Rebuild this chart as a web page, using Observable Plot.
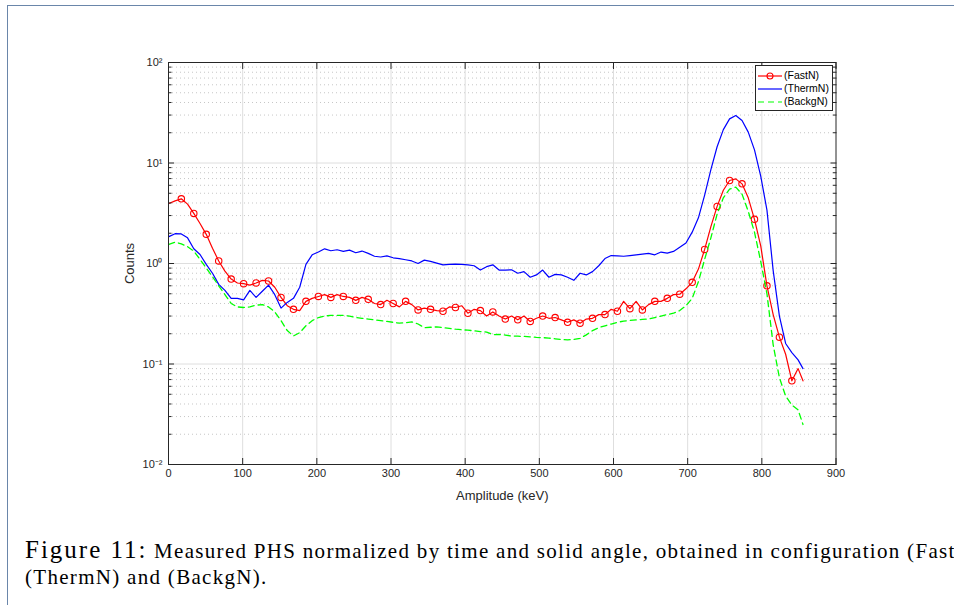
<!DOCTYPE html>
<html>
<head>
<meta charset="utf-8">
<script src="https://cdn.jsdelivr.net/npm/d3@7"></script>
<script src="https://cdn.jsdelivr.net/npm/@observablehq/plot@0.6"></script>
<style>
  html, body { margin: 0; padding: 0; background: #fff; }
  body { width: 954px; height: 605px; overflow: hidden; position: relative; }
  #frame { position: absolute; left: 7px; top: 5px; width: 1000px; height: 700px;
           border-top: 1.5px solid #6a86aa; border-left: 1.5px solid #6a86aa; }
  #chart { position: absolute; left: 0; top: 0; }
  #legend { position: absolute; left: 755px; top: 65px; width: 76px; height: 44px;
            border: 1px solid #262626; background: #fff;
            font-family: "Liberation Sans", Arial, sans-serif; font-size: 10.5px; color: #000; }
  .row { position: absolute; left: 0; height: 12px; width: 76px; }
  .row svg { position: absolute; left: 2px; top: 0; }
  .row span { position: absolute; left: 28px; top: -1px; line-height: 13px; white-space: nowrap; }
  #caption { position: absolute; left: 25px; top: 537px; white-space: nowrap;
             font-family: "Liberation Serif", "DejaVu Serif", serif; font-size: 21px;
             letter-spacing: 1.3px; line-height: 26px; color: #000; }
  #caption .fig { font-size: 25px; letter-spacing: 2px; }
</style>
</head>
<body>
<div id="frame"></div>
<div id="chart"></div>
<div id="legend">
  <div class="row" style="top:4px"><svg width="26" height="12"><line x1="0" y1="6" x2="24" y2="6" stroke="#ff0000" stroke-width="1.2"/><circle cx="12" cy="6" r="3" fill="none" stroke="#ff0000" stroke-width="1.1"/></svg><span>(FastN)</span></div>
  <div class="row" style="top:16.5px"><svg width="26" height="12"><line x1="0" y1="6" x2="24" y2="6" stroke="#0000ff" stroke-width="1.2"/></svg><span>(ThermN)</span></div>
  <div class="row" style="top:30px"><svg width="26" height="12"><line x1="0" y1="6" x2="24" y2="6" stroke="#00ff00" stroke-width="1.2" stroke-dasharray="6,4"/></svg><span>(BackgN)</span></div>
</div>
<div id="caption"><span class="fig">Figure 11:</span>&nbsp;Measured PHS normalized by time and solid angle, obtained in configuration (FastN),<br>(ThermN) and (BackgN).</div>
<script>
// Amplitude grid (keV)
const amplitude = [
  0.5, 8.9, 17.3, 25.7, 34.1, 42.5, 50.9, 59.3, 67.7, 76.1,
  84.5, 92.9, 101.3, 109.7, 118.1, 126.5, 134.9, 143.3, 151.7, 160.1,
  168.5, 176.9, 185.3, 193.7, 202.1, 210.5, 218.9, 227.3, 235.7, 244.1,
  252.5, 260.9, 269.3, 277.7, 286.1, 294.5, 302.9, 311.3, 319.7, 328.1,
  336.5, 344.9, 353.3, 361.7, 370.1, 378.5, 386.9, 395.3, 403.7, 412.1,
  420.5, 428.9, 437.3, 445.7, 454.1, 462.5, 470.9, 479.3, 487.7, 496.1,
  504.5, 512.9, 521.3, 529.7, 538.1, 546.5, 554.9, 563.3, 571.7, 580.1,
  588.5, 596.9, 605.3, 613.7, 622.1, 630.5, 638.9, 647.3, 655.7, 664.1,
  672.5, 680.9, 689.3, 697.7, 706.1, 714.5, 722.9, 731.3, 739.7, 748.1,
  756.5, 764.9, 773.3, 781.7, 790.1, 798.5, 806.9, 815.3, 823.7, 832.1,
  840.5, 848.9, 855.5
];
// (FastN) counts
const fastN = [
  3.95, 4.2, 4.4, 3.9, 3.15, 2.5, 1.95, 1.42, 1.06, 0.84,
  0.70, 0.64, 0.63, 0.61, 0.64, 0.68, 0.67, 0.58, 0.46, 0.38,
  0.35, 0.34, 0.42, 0.45, 0.47, 0.49, 0.46, 0.49, 0.47, 0.46,
  0.43, 0.46, 0.44, 0.40, 0.39, 0.43, 0.40, 0.37, 0.42, 0.39,
  0.345, 0.36, 0.35, 0.34, 0.335, 0.37, 0.365, 0.38, 0.32, 0.35,
  0.34, 0.30, 0.33, 0.30, 0.28, 0.30, 0.275, 0.30, 0.265, 0.285,
  0.30, 0.285, 0.29, 0.275, 0.26, 0.275, 0.255, 0.28, 0.285, 0.31,
  0.31, 0.35, 0.335, 0.42, 0.355, 0.42, 0.345, 0.39, 0.42, 0.42,
  0.45, 0.49, 0.495, 0.56, 0.65, 0.88, 1.38, 2.33, 3.7, 5.35,
  6.7, 6.95, 6.2, 4.5, 2.75, 1.5, 0.6, 0.31, 0.185, 0.125,
  0.068, 0.09, 0.068
];
// (ThermN) counts
const thermN = [
  1.85, 1.98, 1.97, 1.8, 1.4, 1.23, 0.98, 0.80, 0.62, 0.54,
  0.45, 0.45, 0.435, 0.54, 0.46, 0.53, 0.61, 0.49, 0.36, 0.41,
  0.45, 0.58, 0.98, 1.22, 1.30, 1.40, 1.34, 1.37, 1.32, 1.36,
  1.28, 1.33, 1.26, 1.18, 1.16, 1.19, 1.14, 1.12, 1.09, 1.06,
  1.0, 1.08, 1.05, 1.01, 0.97, 0.98, 0.985, 0.98, 0.97, 0.95,
  0.86, 0.93, 0.97, 0.86, 0.86, 0.865, 0.80, 0.83, 0.73, 0.77,
  0.86, 0.73, 0.78, 0.77, 0.73, 0.68, 0.80, 0.77, 0.83, 0.95,
  1.12, 1.20, 1.19, 1.18, 1.20, 1.22, 1.24, 1.26, 1.22, 1.30,
  1.27, 1.32, 1.45, 1.60, 2.05, 2.85, 4.8, 8.6, 14.5, 21.5,
  27.5, 29.7, 26.5, 20.3, 13.5, 7.4, 3.4, 0.85, 0.30, 0.16,
  0.13, 0.11, 0.09
];
// (BackgN) counts
const backgN = [
  1.55, 1.63, 1.57, 1.47, 1.33, 1.1, 0.9, 0.74, 0.6, 0.49,
  0.40, 0.37, 0.365, 0.37, 0.385, 0.39, 0.37, 0.33, 0.27, 0.215,
  0.19, 0.205, 0.24, 0.27, 0.29, 0.30, 0.305, 0.305, 0.305, 0.30,
  0.29, 0.285, 0.28, 0.275, 0.27, 0.265, 0.26, 0.255, 0.258, 0.262,
  0.25, 0.23, 0.232, 0.234, 0.23, 0.226, 0.222, 0.219, 0.217, 0.214,
  0.21, 0.208, 0.196, 0.197, 0.194, 0.19, 0.189, 0.188, 0.186, 0.184,
  0.183, 0.181, 0.178, 0.175, 0.174, 0.176, 0.18, 0.195, 0.215, 0.23,
  0.24, 0.25, 0.26, 0.267, 0.272, 0.275, 0.278, 0.28, 0.29, 0.30,
  0.31, 0.32, 0.34, 0.38, 0.45, 0.66, 1.1, 1.8, 3.1, 4.5,
  5.5, 5.75, 4.9, 3.3, 2.05, 1.05, 0.5, 0.155, 0.073, 0.048,
  0.039, 0.035, 0.025
];
// Axis ticks
const xTicks = [0, 100, 200, 300, 400, 500, 600, 700, 800, 900];
const yTicks = [0.01, 0.1, 1, 10, 100];
const yTickLabels = ["10⁻²", "10⁻¹", "10⁰", "10¹", "10²"];
const yMinorMultipliers = [2, 3, 4, 5, 6, 7, 8, 9];

const yMinor = yTicks.slice(0, -1).flatMap(d => yMinorMultipliers.map(m => d * m));
const rows = amplitude.map((x, i) => ({x, fast: fastN[i], therm: thermN[i], backg: backgN[i], i}));
const markerRows = rows.filter(d => d.i >= 2 && d.i % 2 === 0 && d.i <= 100);
const ink = "#262626";
const fmtY = d => yTickLabels[yTicks.indexOf(d)];

const chart = Plot.plot({
  width: 954,
  height: 520,
  marginLeft: 168,
  marginRight: 118.5,
  marginTop: 62,
  marginBottom: 56,
  style: {fontFamily: "'Liberation Sans', Arial, sans-serif", fontSize: "11px", color: ink, background: "transparent", overflow: "visible"},
  x: {domain: [0, 900]},
  y: {type: "log", domain: [0.01, 100]},
  marks: [
    Plot.ruleY(yMinor, {stroke: "#b8b8b8", strokeWidth: 0.8, strokeDasharray: "1,3"}),
    Plot.ruleX(xTicks.slice(1, -1), {stroke: "#dedede", strokeWidth: 1}),
    Plot.ruleY(yTicks.slice(1, -1), {stroke: "#dedede", strokeWidth: 1}),
    Plot.line(rows, {x: "x", y: "fast", stroke: "#ff0000", strokeWidth: 1.2}),
    Plot.dot(markerRows, {x: "x", y: "fast", r: 3.2, stroke: "#ff0000", fill: "none", strokeWidth: 1.1}),
    Plot.line(rows, {x: "x", y: "therm", stroke: "#0000ff", strokeWidth: 1.2}),
    Plot.line(rows, {x: "x", y: "backg", stroke: "#00ff00", strokeWidth: 1.3, strokeDasharray: "6,4"}),
    Plot.frame({stroke: ink, strokeWidth: 1}),
    Plot.axisX({anchor: "bottom", ticks: xTicks, tickSize: -6, tickPadding: 11, tickFormat: d => String(d),
      label: "Amplitude (keV)", labelAnchor: "center", labelArrow: "none", labelOffset: 35, fontSize: 11}),
    Plot.axisX({anchor: "top", ticks: xTicks, tickSize: -6, tickFormat: () => "", label: null}),
    Plot.axisY({anchor: "left", ticks: yTicks, tickSize: -6, tickPadding: 12, tickFormat: fmtY,
      label: "Counts", labelAnchor: "center", labelArrow: "none", labelOffset: 44, fontSize: 11}),
    Plot.axisY({anchor: "left", ticks: yMinor, tickSize: -3.5, tickFormat: () => "", label: null}),
    Plot.axisY({anchor: "right", ticks: yTicks, tickSize: -6, tickFormat: () => "", label: null}),
    Plot.axisY({anchor: "right", ticks: yMinor, tickSize: -3.5, tickFormat: () => "", label: null})
  ]
});
chart.querySelectorAll("[aria-label$='axis label'] text").forEach(t => t.style.fontSize = "13px");
document.getElementById("chart").appendChild(chart);
</script>
</body>
</html>
